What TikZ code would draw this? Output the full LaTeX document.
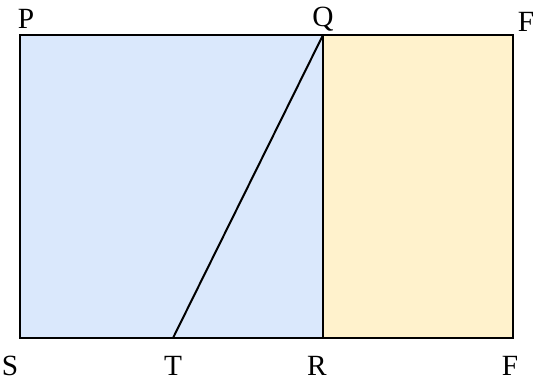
\documentclass[tikz,border=0pt]{standalone}
\usepackage{fontspec}
\setmainfont{Liberation Serif}
\usepackage{tikz}
\usetikzlibrary{positioning}

\begin{document}
\begin{tikzpicture}[
    x=0.75pt, y=-0.75pt,
    edge/.style={draw=black, line width=1.5pt},
    leftbox/.style={edge, fill=bluefill},
    rightbox/.style={edge, fill=orangefill},
    ptlabel/.style={font=\fontsize{22}{26}\selectfont, inner sep=0pt},
]
\definecolor{bluefill}{HTML}{DAE8FC}
\definecolor{orangefill}{HTML}{FFF2CC}
\useasboundingbox (0,0) rectangle (534,383);

% Corners
\coordinate (P) at (20,35);
\coordinate (Q) at (323,35);
\coordinate (Ftop) at (513,35);
\coordinate (S) at (20,338);
\coordinate (T) at (173,338);
\coordinate (R) at (323,338);
\coordinate (Fbot) at (513,338);

% Rectangles
\draw[leftbox] (P) rectangle (R);
\draw[rightbox] (Q) rectangle (Fbot);

% Segment
\draw[edge] (Q) -- (T);

% Labels
\node[ptlabel] (lP) at (26,19) {P};
\node[ptlabel] (lQ) at (323,19) {Q};
\node[ptlabel] (lFtop) at (526,22) {F};
\node[ptlabel] (lS) at (10,366) {S};
\node[ptlabel] (lT) at (173,366) {T};
\node[ptlabel] (lR) at (317,366) {R};
\node[ptlabel] (lFbot) at (510,366) {F};

\end{tikzpicture}
\end{document}
